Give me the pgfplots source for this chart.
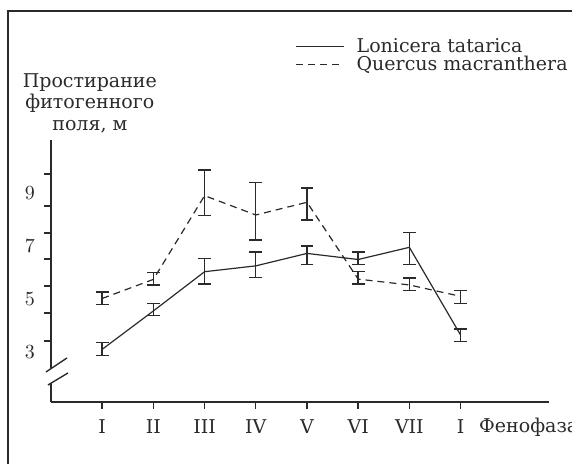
\documentclass[border=0pt]{standalone}
\usepackage{pgfplots}
\pgfplotsset{compat=1.18}
\usepackage{fontspec}
\setmainfont{DejaVu Serif}
\definecolor{ink}{HTML}{2A2A2A}
\begin{document}
\begin{tikzpicture}
\begin{scope}[x=0.5pt,y=0.5pt]
\draw[ink, line width=1pt] (8,-5) -- (8,453) -- (580,453);
\end{scope}
\begin{axis}[
  at={(25.5pt,31pt)}, anchor=south west,
  scale only axis, width=249pt, height=131pt,
  xmin=0, xmax=9.727, ymin=1.113, ymax=11.0,
  clip=false,
  axis lines=left,
  axis line style={-, ink, line width=0.7pt},
  y axis line style={draw=none},
  tick align=outside,
  major tick length=3.3pt,
  tick style={ink, line width=0.7pt},
  xtick={1,...,8},
  xticklabels={I,II,III,IV,V,VI,VII,I},
  xticklabel style={font=\fontsize{9.5}{11}\selectfont, text=ink, yshift=-2pt},
  ytick={3.42,4.47,5.49,6.51,7.49,8.51,9.72},
  yticklabels={,,,,,,},
  extra y ticks={3,5,7,9},
  extra y tick labels={$3$,$5$,$7$,$9$},
  extra y tick style={major tick length=0pt, tick style={draw=none}, yticklabel style={xshift=-4.5pt, font=\fontsize{10}{12}\selectfont, text=ink}},
  xlabel={Фенофаза},
  xlabel style={at={(axis description cs:0.859,-0.095)}, anchor=west, font=\fontsize{9.5}{11}\selectfont, text=ink, inner sep=0pt},
  ylabel={Простирание\\фитогенного\\поля, м},
  ylabel style={rotate=-90, at={(axis description cs:0.078,1.141)}, anchor=center, align=center, font=\fontsize{9.5}{10.75}\selectfont, text=ink},
  legend image code/.code={\draw[#1] (0pt,0pt) -- (24pt,0pt);},
  legend style={at={(axis cs:4.65,15.16)}, anchor=north west, draw=none, fill=none,
    font=\fontsize{9.5}{11}\selectfont, text=ink, row sep=-3.5pt,
    /tikz/every odd column/.append style={column sep=4pt}},
  legend cell align=left,
]
\addplot[ink, line width=0.6pt, error bars/.cd, y dir=both, y explicit,
  error mark options={rotate=90, mark size=3.2pt, line width=0.7pt, ink}, error bar style={line width=0.7pt, ink}]
  table[x=x, y=y, y error plus=ep, y error minus=em] {
x y ep em
1 3.10 0.25 0.24
2 4.55 0.27 0.18
3 6.03 0.49 0.46
4 6.25 0.52 0.45
5 6.72 0.28 0.42
6 6.49 0.28 0.19
7 6.95 0.55 0.65
8 3.64 0.23 0.25
};
\addlegendentry{Lonicera tatarica}
\addplot[ink, line width=0.6pt, dash pattern=on 3.5pt off 2.5pt, error bars/.cd, y dir=both, y explicit,
  error mark options={rotate=90, mark size=3.2pt, line width=0.7pt, ink, solid}, error bar style={line width=0.7pt, ink, solid}]
  table[x=x, y=y, y error plus=ep, y error minus=em] {
x y ep em
1 5.02 0.24 0.22
2 5.74 0.25 0.21
3 8.90 0.97 0.75
4 8.17 1.22 0.94
5 8.65 0.54 0.67
6 5.75 0.29 0.18
7 5.53 0.26 0.20
8 5.10 0.23 0.26
};
\addlegendentry{Quercus macranthera}
% broken y axis
\draw[ink, line width=0.7pt] (axis cs:0,11.0) -- (axis cs:0,2.40);
\draw[ink, line width=0.7pt] (axis cs:0,1.83) -- (axis cs:0,1.113);
\draw[ink, line width=0.7pt] (axis cs:-0.098,2.245) -- (axis cs:0.3125,2.774);
\draw[ink, line width=0.7pt] (axis cs:-0.0586,1.755) -- (axis cs:0.332,2.208);
\end{axis}
\pgfresetboundingbox
\path[use as bounding box] (0,0) rectangle (286pt,232pt);
\end{tikzpicture}
\end{document}
